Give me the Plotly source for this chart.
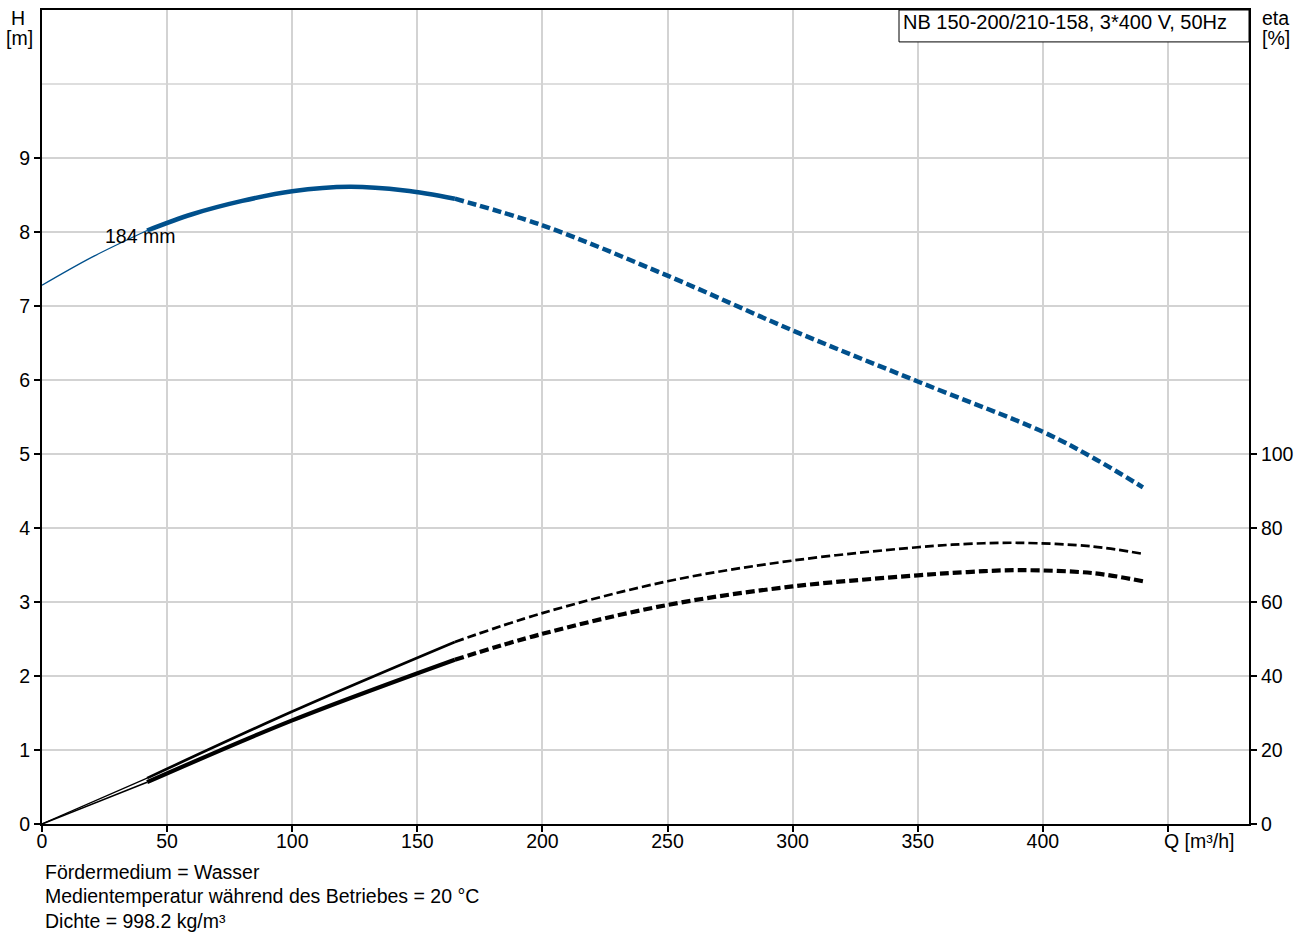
import plotly.graph_objects as go

# ---------------- data ----------------
Q_OP_MIN = 42     # start of operating range (m3/h)
Q_OP_MAX = 165    # end of recommended range (m3/h)

q_h = [0, 20, 42, 60, 80, 100, 123, 145, 165, 200, 250, 300, 350, 400, 420, 440]
h_vals = [7.28, 7.66, 8.02, 8.24, 8.42, 8.55, 8.61, 8.56, 8.45, 8.09, 7.41, 6.67, 5.98, 5.30, 4.95, 4.55]

q_eta = [0, 42, 100, 165, 200, 250, 300, 350, 370, 390, 420, 440]
eta1_vals = [0, 12.4, 30.4, 49.2, 57.0, 65.6, 71.2, 74.8, 75.7, 76.0, 75.0, 73.0]
eta2_vals = [0, 11.3, 28.0, 44.4, 51.4, 59.2, 64.2, 67.2, 68.1, 68.6, 67.8, 65.6]

x_ticks = [0, 50, 100, 150, 200, 250, 300, 350, 400, 450]
x_ticktext = ["0", "50", "100", "150", "200", "250", "300", "350", "400", ""]
h_ticks = [0, 1, 2, 3, 4, 5, 6, 7, 8, 9]
eta_ticks = [0, 20, 40, 60, 80, 100]

impeller_label = "184 mm"
title_text = "NB 150-200/210-158, 3*400 V, 50Hz"
notes = ["Fördermedium = Wasser",
         "Medientemperatur während des Betriebes = 20 °C",
         "Dichte = 998.2 kg/m³"]

FONT = "Arial, Liberation Sans, sans-serif"
FS = 19.5
BLUE = "#00508C"
GRID = "#d3d3d3"

W, H = 1306, 935
L, T = 42, 8
PW, PH = 1207, 816   # plot area size in px


def px(xs):
    return (xs - L) / PW


def py(ys):
    return 1 - (ys - T) / PH


def segment(q, v, lo, hi):
    xs, ys = [], []
    for a, b in zip(q, v):
        if lo <= a <= hi:
            xs.append(a)
            ys.append(b)
    return xs, ys


fig = go.Figure()


def add_curve(q, v, yaxis, color, w_thin, w_thick, w_dash):
    x, y = segment(q, v, 0, Q_OP_MIN)
    fig.add_trace(go.Scatter(x=x, y=y, mode="lines", yaxis=yaxis,
                             line=dict(color=color, width=w_thin, shape="spline"),
                             showlegend=False, hoverinfo="skip"))
    x, y = segment(q, v, Q_OP_MIN, Q_OP_MAX)
    fig.add_trace(go.Scatter(x=x, y=y, mode="lines", yaxis=yaxis,
                             line=dict(color=color, width=w_thick, shape="spline"),
                             showlegend=False, hoverinfo="skip"))
    x, y = segment(q, v, Q_OP_MAX, max(q))
    fig.add_trace(go.Scatter(x=x, y=y, mode="lines", yaxis=yaxis,
                             line=dict(color=color, width=w_dash, shape="spline", dash="9px,4px"),
                             showlegend=False, hoverinfo="skip"))


add_curve(q_h, h_vals, "y", BLUE, 1.3, 4.5, 4.5)
add_curve(q_eta, eta1_vals, "y2", "black", 1.2, 2.7, 2.7)
add_curve(q_eta, eta2_vals, "y2", "black", 1.6, 4.2, 4.2)

fig.add_annotation(x=39.2, y=7.94, text=impeller_label, showarrow=False,
                   font=dict(family=FONT, size=FS, color="black"))

# title box
fig.add_shape(type="rect", xref="paper", yref="paper", x0=px(899), x1=1.0,
              y0=py(40), y1=1.0,
              line=dict(color="black", width=1), fillcolor="white", layer="above")
fig.add_annotation(xref="paper", yref="paper", x=px(901), y=py(20),
                   xanchor="left", yanchor="middle", text=title_text, showarrow=False,
                   font=dict(family=FONT, size=20, color="black"))

# grid line at H = 10 (no tick)
fig.add_shape(type="line", xref="paper", yref="y", x0=0, x1=1, y0=10, y1=10,
              line=dict(color=GRID, width=1.5), layer="below")

# axis titles
for txt, xp, yp in [("H", 18, 16), ("[m]", 19, 36), ("eta", 1276, 16), ("[%]", 1276, 36)]:
    fig.add_annotation(xref="paper", yref="paper", x=px(xp), y=py(yp),
                       xanchor="center", yanchor="middle", text=txt, showarrow=False,
                       font=dict(family=FONT, size=FS, color="black"))
fig.add_annotation(xref="x", yref="paper", x=447.5, y=py(841), xanchor="left", yanchor="middle",
                   text="Q [m³/h]", showarrow=False,
                   font=dict(family=FONT, size=FS, color="black"))

# notes
for i, t in enumerate(notes):
    fig.add_annotation(xref="paper", yref="paper", x=px(43), y=py(872 + 24.5 * i),
                       xanchor="left", yanchor="middle", text=t, showarrow=False,
                       font=dict(family=FONT, size=FS, color="black"))

fig.update_layout(
    width=W, height=H,
    margin=dict(l=L, r=W - L - PW, t=T, b=H - T - PH, pad=0),
    plot_bgcolor="white", paper_bgcolor="white",
    font=dict(family=FONT, size=FS, color="black"),
    xaxis=dict(range=[0, 482.4], tickvals=x_ticks, ticktext=x_ticktext,
               showgrid=True, gridcolor=GRID, gridwidth=1.5,
               showline=True, linecolor="black", linewidth=2, mirror=True,
               ticks="outside", ticklen=6, tickcolor="black", tickwidth=1.5,
               ticklabelstandoff=-7, zeroline=False),
    yaxis=dict(range=[0, 11], tickvals=h_ticks,
               showgrid=True, gridcolor=GRID, gridwidth=1.5,
               showline=True, linecolor="black", linewidth=2,
               ticks="outside", ticklen=6, tickcolor="black", tickwidth=1.5,
               zeroline=False),
    yaxis2=dict(range=[0, 220], tickvals=eta_ticks, overlaying="y", side="right",
                showgrid=False, showline=True, linecolor="black", linewidth=2,
                ticks="outside", ticklen=6, tickcolor="black", tickwidth=1.5,
                zeroline=False),
)

fig.write_html("out.html",
               config={"displayModeBar": False},
               post_script="document.body.style.margin='0';document.body.style.overflow='hidden';")
